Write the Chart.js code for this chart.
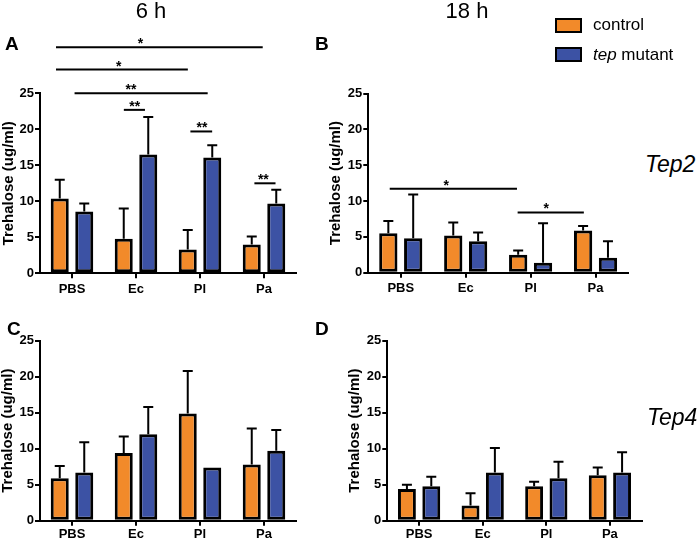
<!DOCTYPE html>
<html>
<head>
<meta charset="utf-8">
<title>Trehalose</title>
<script src="https://cdn.jsdelivr.net/npm/chart.js@4"></script>
<style>
  body { margin: 0; background: #fff; }
  #wrap {
    position: relative;
    width: 700px;
    height: 542px;
    overflow: hidden;
    font-family: "Liberation Sans", Arial, Helvetica, sans-serif;
    color: #000;
  }
  canvas { position: absolute; }
  .txt { position: absolute; white-space: nowrap; line-height: 1; }
  .head { font-size: 22px; transform: translateX(-50%); top: 0; }
  .letter { font-size: 19px; font-weight: bold; }
  .gene { font-size: 23px; font-style: italic; }
  .leg { font-size: 17px; left: 593px; }
  .swatch { position: absolute; box-sizing: border-box; width: 27px; height: 15px; border: 2.5px solid #000; left: 555px; }
</style>
</head>
<body>
<div id="wrap">
  <canvas id="panelA" width="320" height="305" style="left:0px;top:0px"></canvas>
  <canvas id="panelB" width="320" height="305" style="left:320px;top:0px"></canvas>
  <canvas id="panelC" width="320" height="237" style="left:0px;top:305px"></canvas>
  <canvas id="panelD" width="320" height="237" style="left:340px;top:305px"></canvas>

  <div class="txt head" style="left:151px">6 h</div>
  <div class="txt head" style="left:467px">18 h</div>
  <div class="txt letter" style="left:5px;top:34px">A</div>
  <div class="txt letter" style="left:315px;top:34px">B</div>
  <div class="txt letter" style="left:7px;top:319px">C</div>
  <div class="txt letter" style="left:315px;top:319px">D</div>
  <div class="txt gene" style="left:645px;top:153px">Tep2</div>
  <div class="txt gene" style="left:647px;top:406px">Tep4</div>

  <div class="swatch" style="top:18px;background:#f28a2a"></div>
  <div class="txt leg" style="top:16px">control</div>
  <div class="swatch" style="top:47px;background:#3c52a4"></div>
  <div class="txt leg" style="top:46px"><i>tep</i> mutant</div>
</div>

<script>
var groups = ["PBS", "Ec", "Pl", "Pa"];
var seriesNames = ["control", "tep mutant"];

// A: Tep2, 6 h
var tep2_6h_control = [10.4, 4.8, 3.3, 4.0];
var tep2_6h_controlErr = [13.0, 9.0, 6.0, 5.1];
var tep2_6h_mutant = [8.6, 16.5, 16.1, 9.7];
var tep2_6h_mutantErr = [9.7, 21.7, 17.8, 11.6];

// B: Tep2, 18 h
var tep2_18h_control = [5.5, 5.2, 2.5, 5.9];
var tep2_18h_controlErr = [7.2, 7.0, 3.1, 6.5];
var tep2_18h_mutant = [4.8, 4.4, 1.4, 2.1];
var tep2_18h_mutantErr = [10.9, 5.6, 6.9, 4.4];

// C: Tep4, 6 h
var tep4_6h_control = [5.9, 9.4, 14.9, 7.8];
var tep4_6h_controlErr = [7.6, 11.7, 20.8, 12.8];
var tep4_6h_mutant = [6.7, 12.0, 7.4, 9.7];
var tep4_6h_mutantErr = [10.9, 15.8, null, 12.6];

// D: Tep4, 18 h
var tep4_18h_control = [4.4, 2.1, 4.8, 6.3];
var tep4_18h_controlErr = [5.0, 3.8, 5.4, 7.4];
var tep4_18h_mutant = [4.8, 6.7, 5.9, 6.7];
var tep4_18h_mutantErr = [6.1, 10.1, 8.2, 9.5];

// significance brackets: [from group, to group, height, star position, label]
var tep2_6h_sig = [
  [-0.25, 2.98, 31.4, 1.07, "*"],
  [-0.25, 1.81, 28.3, 0.73, "*"],
  [0.04, 2.12, 25.0, 0.92, "**"],
  [0.81, 1.14, 22.7, 0.98, "**"],
  [1.85, 2.19, 19.7, 2.03, "**"],
  [2.85, 3.18, 12.5, 2.99, "**"],
];
var tep2_18h_sig = [
  [-0.17, 1.79, 11.7, 0.70, "*"],
  [1.8, 2.82, 8.4, 2.24, "*"],
];

var yMin = 0;
var yMax = 25;
var yStep = 5;

var FONT = "'Liberation Sans', Arial, Helvetica, sans-serif";
var ORANGE = "#f28a2a";
var BLUE = "#3c52a4";

function whiskers(errs, sig) {
  return {
    id: "whiskers",
    afterDatasetsDraw: function (chart) {
      var ctx = chart.ctx;
      var xs = chart.scales.x;
      var ys = chart.scales.y;
      ctx.save();
      ctx.strokeStyle = "#000";
      ctx.fillStyle = "#000";
      ctx.lineWidth = 2;
      errs.forEach(function (tops, d) {
        var meta = chart.getDatasetMeta(d);
        meta.data.forEach(function (bar, i) {
          if (tops[i] == null) return;
          var yTop = ys.getPixelForValue(tops[i]);
          ctx.beginPath();
          ctx.moveTo(bar.x, bar.y);
          ctx.lineTo(bar.x, yTop);
          ctx.moveTo(bar.x - 5, yTop);
          ctx.lineTo(bar.x + 5, yTop);
          ctx.stroke();
        });
      });
      ctx.font = "bold 14px " + FONT;
      ctx.textAlign = "center";
      ctx.textBaseline = "alphabetic";
      sig.forEach(function (s) {
        var yy = ys.getPixelForValue(s[2]);
        ctx.beginPath();
        ctx.moveTo(xs.getPixelForValue(s[0]), yy);
        ctx.lineTo(xs.getPixelForValue(s[1]), yy);
        ctx.stroke();
        ctx.fillText(s[4], xs.getPixelForValue(s[3]), yy + 1);
      });
      ctx.restore();
    },
  };
}

function makePanel(id, control, controlErr, mutant, mutantErr, sig, frame) {
  var ctx = document.getElementById(id).getContext("2d");
  return new Chart(ctx, {
    type: "bar",
    data: {
      labels: groups,
      datasets: [
        {
          label: seriesNames[0],
          data: control,
          backgroundColor: ORANGE,
          borderColor: "#000",
          borderWidth: 3,
          borderSkipped: false,
          categoryPercentage: 0.766,
          barPercentage: 0.735,
        },
        {
          label: seriesNames[1],
          data: mutant,
          backgroundColor: BLUE,
          borderColor: "#000",
          borderWidth: 3,
          borderSkipped: false,
          categoryPercentage: 0.766,
          barPercentage: 0.735,
        },
      ],
    },
    options: {
      responsive: false,
      animation: false,
      layout: { padding: frame.padding },
      plugins: {
        legend: { display: false },
        tooltip: { enabled: false },
      },
      scales: {
        x: {
          grid: {
            offset: false,
            drawOnChartArea: false,
            drawTicks: true,
            tickLength: 5,
            lineWidth: 2,
            color: "#000",
          },
          border: { display: true, color: "#000", width: 2 },
          ticks: {
            color: "#000",
            padding: frame.xTickPad,
            font: { family: FONT, size: 13, weight: "bold" },
          },
          afterFit: function (scale) {
            scale.height = frame.xAxisHeight;
          },
        },
        y: {
          min: yMin,
          max: yMax,
          grid: {
            drawOnChartArea: false,
            drawTicks: true,
            tickLength: 5,
            lineWidth: 2,
            color: "#000",
          },
          border: { display: true, color: "#000", width: 2 },
          ticks: {
            stepSize: yStep,
            color: "#000",
            padding: 1,
            font: { family: FONT, size: 13, weight: "bold" },
          },
          title: {
            display: true,
            text: "Trehalose (ug/ml)",
            color: "#000",
            padding: { top: frame.titlePad, bottom: 0 },
            font: { family: FONT, size: 15, weight: "bold" },
          },
          afterFit: function (scale) {
            scale.width = frame.yAxisWidth;
          },
        },
      },
    },
    plugins: [whiskers([controlErr, mutantErr], sig)],
  });
}

makePanel("panelA", tep2_6h_control, tep2_6h_controlErr, tep2_6h_mutant, tep2_6h_mutantErr, tep2_6h_sig, {
  yAxisWidth: 40, xAxisHeight: 24, titlePad: 0, xTickPad: 3,
  padding: { left: 0, top: 93.3, right: 24, bottom: 7.7 },
});
makePanel("panelB", tep2_18h_control, tep2_18h_controlErr, tep2_18h_mutant, tep2_18h_mutantErr, tep2_18h_sig, {
  yAxisWidth: 48.3, xAxisHeight: 24, titlePad: 7, xTickPad: 3,
  padding: { left: 0, top: 93.5, right: 12, bottom: 8.3 },
});
makePanel("panelC", tep4_6h_control, tep4_6h_controlErr, tep4_6h_mutant, tep4_6h_mutantErr, [], {
  yAxisWidth: 40, xAxisHeight: 18, titlePad: -1, xTickPad: 1,
  padding: { left: 0, top: 35.7, right: 24, bottom: 3.3 },
});
makePanel("panelD", tep4_18h_control, tep4_18h_controlErr, tep4_18h_mutant, tep4_18h_mutantErr, [], {
  yAxisWidth: 47.3, xAxisHeight: 18, titlePad: 6, xTickPad: 1,
  padding: { left: 0, top: 35.7, right: 18.3, bottom: 3.3 },
});
</script>
</body>
</html>
